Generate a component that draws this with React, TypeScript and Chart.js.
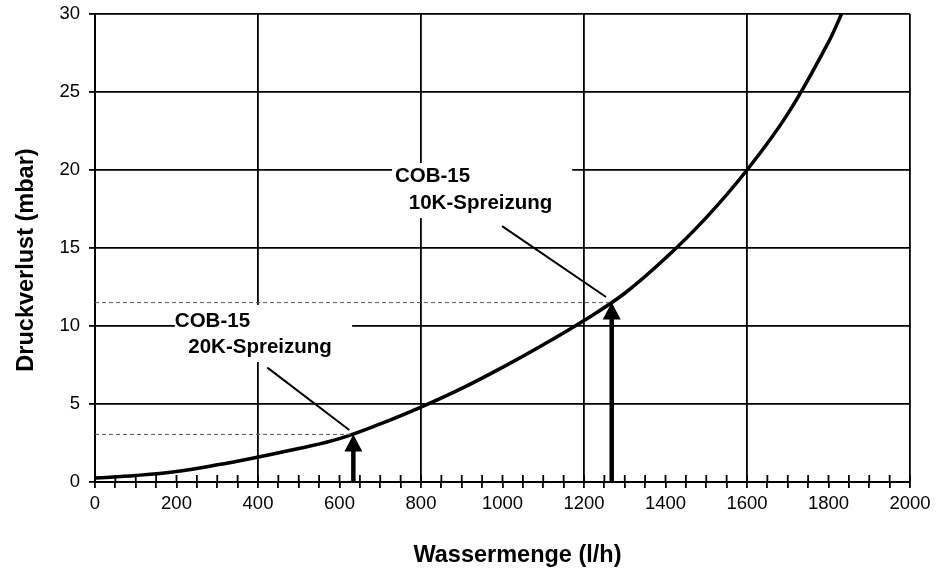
import React, { useEffect, useRef } from "react";
import { Chart, registerables } from "chart.js";

Chart.register(...registerables);

// ---- data ----
const flow = [0, 100, 200, 300, 400, 500, 600, 700, 800, 900, 1000, 1100, 1200, 1300, 1400, 1500, 1600, 1700, 1800, 1832];
const pressure = [0.25, 0.42, 0.68, 1.1, 1.6, 2.15, 2.78, 3.72, 4.8, 6.0, 7.35, 8.8, 10.35, 12.1, 14.35, 16.95, 20.0, 23.6, 28.2, 30.0];

const arrowFlow = [634, 1268];
const arrowPressure = [3.05, 11.5];

const labelLine1 = ["COB-15", "COB-15"];
const labelLine2 = ["20K-Spreizung", "10K-Spreizung"];

const leaderFromFlow = [423, 999];
const leaderFromPressure = [7.33, 16.4];
const leaderToFlow = [624, 1254];
const leaderToPressure = [3.33, 11.86];

const xMin = 0;
const xMax = 2000;
const xStep = 50;
const xLabelStep = 200;
const xGridStep = 400;
const yMin = 0;
const yMax = 30;
const yStep = 5;

const xTitle = "Wassermenge (l/h)";
const yTitle = "Druckverlust (mbar)";

// ---- layout of annotations (data coordinates) ----
const labelBoxes = [
  { x0: 196, x1: 631, y0: 11.35, y1: 7.69, l1x: 196, l1y: 9.96, l2x: 229, l2y: 8.29 },
  { x0: 729, x1: 1171, y0: 20.45, y1: 16.92, l1x: 736, l1y: 19.25, l2x: 770, l2y: 17.48 },
];

const FONT = "'Liberation Sans', Arial, Helvetica, sans-serif";

const annotationPlugin = {
  id: "annot",
  beforeDatasetsDraw(chart: any) {
    const { ctx, scales } = chart;
    const x = scales.x, y = scales.y;
    ctx.save();
    ctx.fillStyle = "#fff";
    labelBoxes.forEach((b) => {
      const px0 = x.getPixelForValue(b.x0), px1 = x.getPixelForValue(b.x1);
      const py0 = y.getPixelForValue(b.y0), py1 = y.getPixelForValue(b.y1);
      ctx.fillRect(px0, py0, px1 - px0, py1 - py0);
    });
    ctx.restore();
  },
  afterDatasetsDraw(chart: any) {
    const { ctx, scales, chartArea } = chart;
    const x = scales.x, y = scales.y;
    ctx.save();
    // inner half of x tick marks
    ctx.strokeStyle = "#000";
    ctx.lineWidth = 1.8;
    for (let v = xMin; v <= xMax; v += xStep) {
      const px = x.getPixelForValue(v);
      ctx.beginPath();
      ctx.moveTo(px, chartArea.bottom - 7);
      ctx.lineTo(px, chartArea.bottom);
      ctx.stroke();
    }
    // arrows
    ctx.fillStyle = "#000";
    arrowFlow.forEach((f, i) => {
      const tx = x.getPixelForValue(f);
      const ty = y.getPixelForValue(arrowPressure[i]);
      const base = y.getPixelForValue(0);
      ctx.lineWidth = 4.5;
      ctx.beginPath();
      ctx.moveTo(tx, base);
      ctx.lineTo(tx, ty + 15);
      ctx.stroke();
      ctx.beginPath();
      ctx.moveTo(tx, ty);
      ctx.lineTo(tx - 9, ty + 17);
      ctx.lineTo(tx + 9, ty + 17);
      ctx.closePath();
      ctx.fill();
    });
    // annotation text
    ctx.font = `bold 20.5px ${FONT}`;
    ctx.textBaseline = "alphabetic";
    ctx.textAlign = "left";
    labelBoxes.forEach((b, i) => {
      ctx.fillText(labelLine1[i], x.getPixelForValue(b.l1x), y.getPixelForValue(b.l1y));
      ctx.fillText(labelLine2[i], x.getPixelForValue(b.l2x), y.getPixelForValue(b.l2y));
    });
    // axis titles
    ctx.font = `bold 23.5px ${FONT}`;
    ctx.textAlign = "center";
    ctx.fillText(xTitle, (chartArea.left + chartArea.right) / 2 + 15, chart.height - 6);
    ctx.translate(33, (chartArea.top + chartArea.bottom) / 2 + 12);
    ctx.rotate(-Math.PI / 2);
    ctx.fillText(yTitle, 0, 0);
    ctx.restore();
  },
};

const zeroPad = (s: any) => {
  s.paddingTop = 0;
  s.paddingBottom = 0;
  s.paddingLeft = 0;
  s.paddingRight = 0;
};

export default function App() {
  const ref = useRef<HTMLCanvasElement | null>(null);
  useEffect(() => {
    if (!ref.current) return;
    const curve = flow.map((f, i) => ({ x: f, y: pressure[i] }));
    const dashed = arrowFlow.map((f, i) => ({
      type: "line",
      data: [{ x: xMin, y: arrowPressure[i] }, { x: f, y: arrowPressure[i] }],
      borderColor: "#555",
      borderWidth: 1,
      borderDash: [4, 3],
      pointRadius: 0,
      fill: false,
    }));
    const leaders = leaderFromFlow.map((f, i) => ({
      type: "line",
      data: [{ x: f, y: leaderFromPressure[i] }, { x: leaderToFlow[i], y: leaderToPressure[i] }],
      borderColor: "#000",
      borderWidth: 2,
      pointRadius: 0,
      fill: false,
    }));
    const chart = new Chart(ref.current, {
      type: "line",
      data: {
        datasets: [
          ...(dashed as any),
          ...(leaders as any),
          {
            data: curve,
            borderColor: "#000",
            borderWidth: 3.5,
            pointRadius: 0,
            tension: 0.4,
            fill: false,
          },
        ],
      },
      options: {
        animation: false,
        responsive: true,
        maintainAspectRatio: false,
        layout: { padding: { left: 0, top: 14, right: 38, bottom: 0 } },
        plugins: { legend: { display: false }, tooltip: { enabled: false } },
        scales: {
          x: {
            type: "linear",
            min: xMin,
            max: xMax,
            afterFit: (s: any) => { s.height = 86; zeroPad(s); },
            ticks: {
              stepSize: xStep,
              autoSkip: false,
              maxRotation: 0,
              minRotation: 0,
              padding: 5,
              color: "#000",
              font: { family: FONT, size: 18.5 },
              callback: (v: any) => (Number(v) % xLabelStep === 0 ? String(v) : ""),
            },
            grid: {
              color: (c: any) => (c.tick && c.tick.value % xGridStep === 0 ? "#000" : "rgba(0,0,0,0)"),
              tickColor: "#000",
              lineWidth: 1.8,
              tickLength: 6,
            },
            border: { color: "#000", width: 2 },
          },
          y: {
            type: "linear",
            min: yMin,
            max: yMax,
            afterFit: (s: any) => { s.width = 95; zeroPad(s); },
            ticks: {
              stepSize: yStep,
              padding: 9,
              color: "#000",
              font: { family: FONT, size: 18.5 },
            },
            grid: { color: "#000", lineWidth: 1.8, tickLength: 6 },
            border: { color: "#000", width: 2 },
          },
        },
      },
      plugins: [annotationPlugin],
    });
    return () => chart.destroy();
  }, []);
  return (
    <div style={{ position: "fixed", left: 0, top: 0, width: 948, height: 568, background: "#fff" }}>
      <canvas ref={ref} />
    </div>
  );
}
